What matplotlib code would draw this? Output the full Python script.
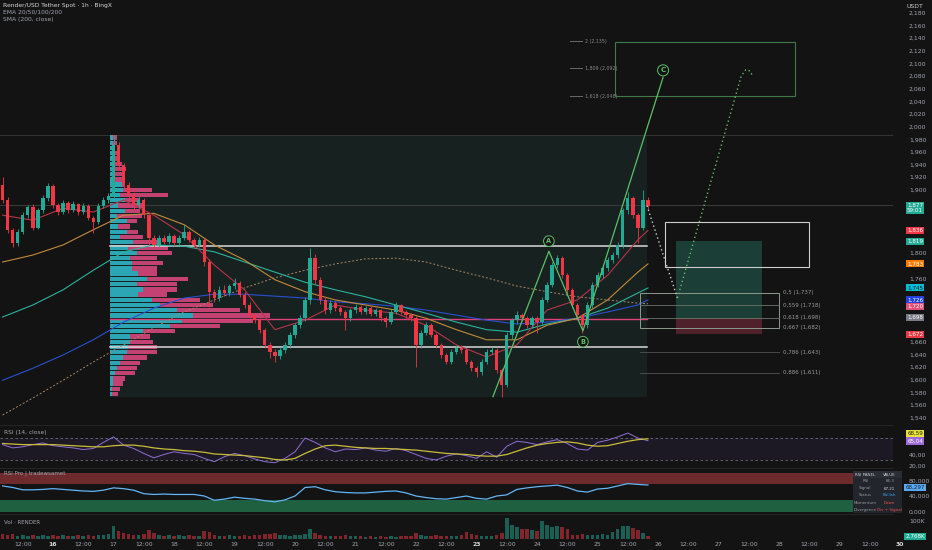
import numpy as np
import matplotlib as mpl
mpl.use("Agg")
import matplotlib.pyplot as plt
from matplotlib.patches import Rectangle

BG = "#131313"
UP = "#22ab94"
DOWN = "#f23645"
TXT = "#a3a6af"

# time axis: hours counted from 15 Jun 00:00, 2h candles
candle_start = 4
candle_step = 2
first_open = 1908
closes = [1884, 1837, 1816, 1833, 1860, 1873, 1840, 1868, 1887, 1906,
          1876, 1865, 1879, 1868, 1878, 1865, 1875, 1856, 1849, 1875,
          1884, 1890, 1971, 1939, 1908, 1892, 1876, 1884, 1860, 1824,
          1813, 1824, 1818, 1827, 1816, 1824, 1833, 1821, 1813, 1821,
          1786, 1739, 1729, 1742, 1737, 1748, 1753, 1734, 1718, 1702,
          1694, 1679, 1655, 1644, 1637, 1647, 1655, 1671, 1686, 1697,
          1726, 1792, 1758, 1726, 1710, 1721, 1713, 1707, 1697, 1710,
          1715, 1707, 1713, 1704, 1710, 1697, 1691, 1707, 1718, 1707,
          1702, 1697, 1655, 1674, 1686, 1671, 1655, 1639, 1628, 1644,
          1650, 1647, 1628, 1618, 1612, 1628, 1644, 1647, 1615, 1592,
          1671, 1694, 1702, 1697, 1686, 1697, 1691, 1726, 1750, 1781,
          1792, 1765, 1742, 1718, 1702, 1686, 1718, 1750, 1765, 1777,
          1789, 1797, 1813, 1868, 1887, 1860, 1840, 1884, 1875]
highs = [1920, 1888, 1840, 1838, 1865, 1876, 1878, 1872, 1892, 1911,
         1910, 1880, 1884, 1882, 1882, 1880, 1879, 1877, 1858, 1879,
         1888, 1895, 1987, 1975, 1942, 1912, 1896, 1890, 1887, 1862,
         1828, 1828, 1828, 1832, 1830, 1828, 1845, 1836, 1824, 1826,
         1824, 1790, 1744, 1748, 1750, 1752, 1761, 1756, 1738, 1722,
         1706, 1698, 1682, 1660, 1648, 1652, 1660, 1675, 1690, 1702,
         1730, 1808, 1798, 1762, 1730, 1726, 1725, 1716, 1710, 1714,
         1720, 1718, 1717, 1716, 1714, 1712, 1700, 1711, 1723, 1720,
         1710, 1705, 1700, 1678, 1691, 1689, 1674, 1658, 1642, 1648,
         1655, 1654, 1650, 1631, 1622, 1632, 1648, 1652, 1650, 1618,
         1676, 1698, 1708, 1706, 1700, 1701, 1700, 1730, 1755, 1786,
         1797, 1796, 1768, 1745, 1721, 1704, 1722, 1754, 1770, 1782,
         1794, 1802, 1818, 1872, 1897, 1890, 1864, 1900, 1889]
lows = [1880, 1832, 1810, 1812, 1830, 1855, 1836, 1838, 1864, 1883,
        1872, 1860, 1862, 1864, 1865, 1861, 1862, 1852, 1832, 1846,
        1872, 1880, 1886, 1932, 1902, 1886, 1870, 1872, 1855, 1813,
        1808, 1810, 1814, 1815, 1812, 1813, 1820, 1817, 1808, 1810,
        1780, 1715, 1722, 1725, 1732, 1733, 1744, 1730, 1713, 1698,
        1690, 1674, 1650, 1634, 1628, 1632, 1642, 1650, 1666, 1682,
        1692, 1720, 1752, 1720, 1704, 1705, 1708, 1702, 1679, 1692,
        1706, 1703, 1703, 1700, 1700, 1693, 1683, 1688, 1704, 1703,
        1698, 1693, 1620, 1650, 1670, 1667, 1650, 1635, 1624, 1625,
        1640, 1642, 1624, 1614, 1604, 1608, 1625, 1640, 1610, 1573,
        1588, 1665, 1688, 1692, 1681, 1682, 1674, 1688, 1722, 1746,
        1776, 1760, 1736, 1713, 1697, 1674, 1682, 1714, 1746, 1760,
        1772, 1785, 1792, 1808, 1862, 1855, 1816, 1836, 1870]
volumes_k = [28, 22, 28, 17, 22, 17, 22, 17, 22, 17, 22,
             17, 22, 17, 17, 22, 17, 22, 17, 22, 22, 28,
             72, 44, 33, 28, 22, 22, 28, 50, 33,
             22, 17, 22, 17, 22, 17, 22, 17, 17, 44,
             39, 22, 17, 17, 22, 17, 17, 22, 17, 22,
             22, 28, 28, 33, 22, 22, 17, 22, 22, 28,
             55, 33, 22, 17, 17, 17, 17, 22, 17, 17,
             17, 11, 17, 11, 17, 11, 17, 11, 17, 17, 17,
             33, 22, 17, 17, 22, 17, 17, 17, 17, 22, 39,
             28, 22, 17, 17, 17, 22, 33,
             116, 77, 66, 55, 55, 50, 44, 99, 77, 66, 72, 66, 55,
             22, 22, 28, 22, 22, 22, 28, 22,
             39, 55, 72, 72, 61, 50, 33, 17]

# moving averages, read every 12h
ma_t = [4, 16, 28, 40, 52, 64, 76, 88, 100, 112, 124, 136, 148, 160,
        172, 184, 196, 208, 220, 232, 244, 256, 260]
ema20 = [1860, 1852, 1871, 1865, 1884, 1860, 1829, 1781, 1742, 1679, 1694, 1718,
         1710, 1705, 1686, 1655, 1636, 1655, 1710, 1726, 1765, 1821, 1836]
ema50 = [1786, 1797, 1813, 1837, 1860, 1863, 1845, 1813, 1789, 1758, 1739, 1726,
         1718, 1710, 1697, 1679, 1663, 1663, 1686, 1697, 1726, 1770, 1783]
ema100 = [1699, 1718, 1742, 1773, 1802, 1813, 1811, 1802, 1786, 1770, 1754, 1742,
          1731, 1718, 1705, 1691, 1679, 1675, 1688, 1697, 1713, 1737, 1745]
ema200 = [1599, 1618, 1639, 1663, 1691, 1713, 1729, 1735, 1735, 1732, 1729, 1723,
          1720, 1716, 1710, 1702, 1694, 1688, 1691, 1697, 1707, 1718, 1726]
sma200 = [1544, 1571, 1599, 1628, 1655, 1682, 1707, 1726, 1745, 1761, 1773, 1783,
          1791, 1792, 1786, 1773, 1761, 1748, 1739, 1731, 1726, 1721, 1720]

# oscillators, read every 4h
osc_start = 4
osc_step = 4
rsi = [58, 52, 54, 58, 61, 56, 54, 52, 49, 51, 62, 72, 57, 51, 42, 34, 40, 45, 42, 40,
       33, 27, 36, 42, 38, 32, 27, 25, 33, 45, 70, 62, 52, 45, 50, 49, 52, 48, 46, 51,
       47, 40, 33, 30, 37, 41, 38, 33, 45, 35, 55, 64, 62, 58, 63, 67, 60, 50, 48, 62,
       66, 72, 79, 70, 65.04]
rsi_ma = [60, 59, 58, 58, 58, 58, 57, 56, 55, 54, 54, 56, 57, 57, 55, 52, 50, 49, 47, 46,
          44, 41, 40, 39, 38, 36, 34, 31, 30, 33, 42, 50, 56, 57, 55, 53, 52, 51, 51, 50,
          49, 48, 46, 44, 42, 41, 40, 38, 37, 37, 40, 46, 52, 57, 60, 62, 63, 61, 57, 55,
          56, 60, 64, 67, 68.59]
rsi_pro = [66, 62, 56, 56, 57, 59, 57, 55, 53, 52, 55, 61, 59, 55, 46, 44, 45, 44, 44, 44,
           40, 29, 32, 37, 34, 32, 28, 25, 30, 40, 62, 64, 56, 51, 49, 48, 48, 50, 52, 53,
           48, 40, 36, 33, 32, 36, 40, 34, 32, 40, 43, 57, 61, 64, 66, 68, 62, 53, 50, 58,
           60, 66, 72, 70, 68.297]

# volume profile, rows from top to bottom
profile_high = 1987
profile_low = 1573
profile_t0 = 46.6
profile_t1 = 259.6
vp_up = [3.3, 2.7, 1.7, 1.7, 1.7, 5, 3.3, 3.3, 5, 11.7,
         13.3, 10, 15, 8.3, 15, 6.7, 16.7, 8.3, 16.7, 10,
         23.3, 18.3, 26.7, 20, 21.7, 21.7, 28.3, 36.7, 26.7, 33.3,
         28.3, 41.7, 50, 66.7, 83.3, 71.7, 60, 33.3, 20, 20,
         18.3, 16.7, 13.3, 10, 6.7, 5, 3.3, 2.7, 1.7, 1.7]
vp_down = [4, 4, 3.3, 6.7, 7.7, 6.7, 12.7, 8.3, 7.7, 2.3,
           28.3, 48, 15, 25, 15, 25, 10, 11.7, 11.7, 23.3,
           23.3, 40, 35, 26.7, 31.7, 25, 18.3, 41.7, 40, 33.3,
           28.3, 48.3, 53.3, 63.3, 76.7, 71.7, 50, 31.7, 20, 23.3,
           28.3, 30, 23.3, 20, 20, 20, 11.7, 10.7, 8.3, 6.7]
poc_price = 1696
range_top = 1811
range_bottom = 1652

# ABC wave
wave_t = [198.5, 220.7, 234.2, 266.0]
wave_p = [1573, 1803, 1677, 2078]
wave_labels = [("A", 220.7, 1819), ("B", 234.2, 1660), ("C", 266.0, 2089)]

# projection path
proj_down_t = [259.6, 271.7]
proj_down_p = [1875, 1729]
proj_up_t = [271.7, 297.0, 298.8, 300.5, 301.5]
proj_up_p = [1729, 2080, 2090, 2088, 2080]

# fib retracement 1 = 1573, 0 = 1900
fib_levels = ["0,5", "0,559", "0,618", "0,667", "0,786", "0,886"]
fib_prices = [1737, 1718, 1698, 1682, 1643, 1611]
ext_levels = ["2", "1,809", "1,618"]
ext_prices = [2135, 2092, 2048]

# long position
pos_t = (271.1, 305.2)
pos_target, pos_entry, pos_stop = 1819, 1698, 1672

# right-hand price tags
tag_prices = [1871, 1836, 1819, 1783, 1745, 1726, 1716, 1698, 1672]
tag_texts = ["1,877\n59:01", "1,836", "1,819", "1,783", "1,745", "1,726", "1,720", "1,698", "1,672"]
tag_colors = [UP, DOWN, UP, "#f57c00", "#00bcd4", "#2341e0", "#e0527a", "#787b86", "#e53945"]

fig = plt.figure(figsize=(9.32, 5.5), dpi=100, facecolor=BG)
W, H, CW = 932, 550, 893
XL = (2.975, 357.2)
PX_PER_PRICE = 0.6325


def pane(top, bottom):
    ax = fig.add_axes([0, 1 - bottom / H, CW / W, (bottom - top) / H])
    ax.set_facecolor(BG)
    for s in ax.spines.values():
        s.set_visible(False)
    ax.set_xlim(*XL)
    ax.tick_params(axis="x", length=0, labelbottom=False)
    ax.yaxis.tick_right()
    ax.tick_params(axis="y", length=0, labelsize=4.4, colors=TXT, pad=11.5)
    return ax


def tag(ax, y, text, fc, tc="white"):
    ax.text(915 / CW, y, text, transform=ax.get_yaxis_transform(), ha="center", va="center",
            fontsize=4.1, color=tc, zorder=20, clip_on=False, linespacing=1.05,
            bbox=dict(boxstyle="square,pad=0.18", fc=fc, ec="none"))


# ---------------- main price pane
ax = pane(0, 425)
ax.set_ylim(1528.3, 2200.2)
yt = [v for v in range(1540, 2181, 20)
      if min(abs(v - p) for p in tag_prices) * PX_PER_PRICE > 7]
ax.set_yticks(yt)
ax.set_yticklabels([f"{v:,}" for v in yt])

ax.axhline(1876, color="#3c3c3c", lw=0.7, zorder=1)
ax.axhline(profile_high, color="#353535", lw=0.7, zorder=1)
ax.add_patch(Rectangle((profile_t0, profile_low), profile_t1 - profile_t0,
                       profile_high - profile_low, fc="#1b3430", alpha=0.45, ec="none", zorder=0))

row_h = (profile_high - profile_low) / len(vp_up)
centers = profile_high - (np.arange(len(vp_up)) + 0.5) * row_h
hours_per_unit = 1 / 2.521
up_w = np.array(vp_up) * hours_per_unit
dn_w = np.array(vp_down) * hours_per_unit
ax.barh(centers, up_w, left=profile_t0, height=row_h * 0.82, color="#2fb4c6", alpha=0.9, zorder=2)
ax.barh(centers, dn_w, left=profile_t0 + up_w, height=row_h * 0.82, color="#d8467c", alpha=0.9, zorder=2)
ax.plot([profile_t0, profile_t1], [poc_price] * 2, color="#e0407a", lw=1.0, zorder=2)

for lvl in (range_top, range_bottom):
    ax.plot([profile_t0, profile_t1], [lvl] * 2, color="#d9d9d9", lw=1.1, zorder=3)

ax.plot(ma_t, sma200, color="#a88868", lw=0.7, ls=(0, (2, 2)), zorder=3)
ax.plot(ma_t, ema200, color="#2a4fd0", lw=0.8, zorder=3)
ax.plot(ma_t, ema100, color="#2bb39f", lw=0.8, zorder=3)
ax.plot(ma_t, ema50, color="#c48a3a", lw=0.8, zorder=3)
ax.plot(ma_t, ema20, color="#b5364a", lw=0.8, zorder=3)

t = candle_start + candle_step * np.arange(len(closes))
c = np.array(closes)
o = np.array([first_open] + closes[:-1])
cols = np.where(c >= o, UP, DOWN)
ax.vlines(t, lows, highs, colors=cols, lw=0.6, zorder=5)
ax.bar(t, np.maximum(np.abs(c - o), 1.2), bottom=np.minimum(o, c), width=1.35,
       color=cols, zorder=6)

# wave
ax.plot(wave_t, wave_p, color="#5cc06a", lw=0.9, zorder=7)
for name, wt, wp in wave_labels:
    ax.text(wt, wp, name, ha="center", va="center", fontsize=5.2 if name == "C" else 4.8,
            color="#5cc06a", zorder=8, fontweight="bold",
            bbox=dict(boxstyle="circle,pad=0.35", fc=BG, ec="#5cc06a", lw=0.7))

# projection
ax.plot(proj_down_t, proj_down_p, color="#d0d0d0", lw=1.0, ls=(0, (1, 2)), zorder=7)
ax.plot(proj_up_t, proj_up_p, color="#66bb6a", lw=1.0, ls=(0, (1, 2)), zorder=7)

# position tool
ax.add_patch(Rectangle((pos_t[0], pos_entry), pos_t[1] - pos_t[0], pos_target - pos_entry,
                       fc="#1f4d43", alpha=0.75, ec="none", zorder=1))
ax.add_patch(Rectangle((pos_t[0], pos_stop), pos_t[1] - pos_t[0], pos_entry - pos_stop,
                       fc="#5a2430", alpha=0.85, ec="none", zorder=1))

# boxes
ax.add_patch(Rectangle((266.8, 1778), 57.1, 71, fc="none", ec="#cfcfcf", lw=0.8, zorder=4))
ax.add_patch(Rectangle((256.8, 1682), 55.2, 55, fc="none", ec="#8d9a8e", lw=0.7, zorder=4))
ax.add_patch(Rectangle((246.9, 2048), 71.4, 86, fc="none", ec="#3f7a4a", lw=0.8, zorder=4))

for name, fp in zip(fib_levels, fib_prices):
    if fp in (1718, 1698):
        ax.plot([256.8, 312.0], [fp] * 2, color="#6c766d", lw=0.6, zorder=4)
    elif fp < 1682:
        ax.plot([256.8, 312.0], [fp] * 2, color="#4a4a4a", lw=0.7, zorder=4)
    ax.text(313.6, fp, f"{name} ({fp:,})", fontsize=4.0, color="#9a9a9a", va="center", ha="left")

for name, ep in zip(ext_levels, ext_prices):
    ax.plot([229, 234], [ep] * 2, color="#6a6a6a", lw=0.7)
    ax.text(235.2, ep, f"{name} ({ep:,})", fontsize=3.4, color="#8a8a8a", va="center", ha="left")

for tp, tt, tc in zip(tag_prices, tag_texts, tag_colors):
    tag(ax, tp, tt, tc, "#102020" if tc == "#00bcd4" else "white")

fig.text(915 / W, 1 - 6 / H, "USDT", fontsize=4.4, color="#d0d0d0", ha="center", va="center")
fig.text(3 / W, 1 - 6 / H, "Render/USD Tether Spot · 1h · BingX", fontsize=4.3, color="#d8d8d8", va="center")
fig.text(3 / W, 1 - 12.5 / H, "EMA 20/50/100/200", fontsize=4.3, color=TXT, va="center")
fig.text(3 / W, 1 - 19 / H, "SMA (200, close)", fontsize=4.3, color=TXT, va="center")

# ---------------- RSI pane
osc_t = osc_start + osc_step * np.arange(len(rsi))
ar = pane(425, 468)
ar.set_ylim(15.5, 93.6)
ar.set_yticks([20, 40])
ar.set_yticklabels(["20,00", "40,00"])
ar.axhspan(30, 70, color="#7e57c2", alpha=0.1, lw=0)
for lv in (30, 70):
    ar.axhline(lv, color="#6a6d78", lw=0.6, ls=(0, (3, 3)))
ar.plot(osc_t, rsi, color="#8e6fd6", lw=0.7)
ar.plot(osc_t, rsi_ma, color="#c9bd3a", lw=0.9)
ar.spines["top"].set_visible(True)
ar.spines["top"].set_color("#242424")
ar.text(4 / CW, 0.78, "RSI (14, close)", transform=ar.transAxes, fontsize=4.2, color=TXT)
tag(ar, 78.5, "68,59", "#e8e23a", "#202020")
tag(ar, 64.5, "65,04", "#9c6ade")

# ---------------- RSI Pro pane
ap = pane(468, 514)
ap.set_ylim(-6.45, 112.3)
ap.set_yticks([0, 40, 80])
ap.set_yticklabels(["0,000", "40,000", "80,000"])
ap.axhspan(70, 100, color="#6e2b2e", lw=0)
ap.axhspan(0, 30, color="#1f6040", lw=0)
ap.plot(osc_t, rsi_pro, color="#64b5f6", lw=0.9)
ap.spines["top"].set_visible(True)
ap.spines["top"].set_color("#242424")
ap.text(4 / CW, 0.86, "RSI Pro | tradewsamet", transform=ap.transAxes, fontsize=4.0, color=TXT)
tag(ap, 62, "68,297", "#5aa9f0", "#102030")

# table
at = fig.add_axes([853 / W, 1 - 513 / H, 49 / W, 42 / H])
at.set_xlim(0, 49)
at.set_ylim(42, 0)
at.axis("off")
rows = [("RSI PANEL", "VALUE", "#d0d0d0", "#d0d0d0"),
        ("RSI", "66.3", "#9a9a9a", "#9a9a9a"),
        ("Signal", "67.21", "#9a9a9a", "#e0e0e0"),
        ("Status", "Bullish", "#9a9a9a", "#42a5f5"),
        ("Momentum", "Down", "#9a9a9a", "#ef5350"),
        ("Divergence", "Div + Signal", "#9a9a9a", "#ef5350")]
for i, (l, r, lc, rc) in enumerate(rows):
    fc = "#2a2d34" if i == 0 else "#22252c"
    at.add_patch(Rectangle((0.3, i * 7 + 0.3), 24.2, 6.4, fc=fc, ec="none"))
    at.add_patch(Rectangle((24.8, i * 7 + 0.3), 24.0, 6.4, fc=fc, ec="none"))
    at.text(12.4, i * 7 + 3.5, l, fontsize=2.9, color=lc, ha="center", va="center")
    at.text(36.8, i * 7 + 3.5, r, fontsize=2.9, color=rc, ha="center", va="center")

# ---------------- volume pane
av = pane(514, 539)
av.set_ylim(0, 139)
av.set_yticks([100])
av.set_yticklabels(["100K"])
av.bar(t, volumes_k, width=1.4, color=cols, alpha=0.5)
av.spines["top"].set_visible(True)
av.spines["top"].set_color("#242424")
av.text(4 / CW, 0.62, "Vol · RENDER", transform=av.transAxes, fontsize=4.0, color=TXT)
tag(av, 12, "2.768K", UP)

xt = np.arange(12, 349, 12)
xl = ["12:00" if v % 24 == 12 else str(15 + v // 24) for v in xt]
av.set_xticks(xt)
av.set_xticklabels(xl)
av.tick_params(axis="x", labelbottom=True, labelsize=4.4, colors=TXT, pad=2.5)
for lab in av.get_xticklabels():
    if lab.get_text() in ("16", "23"):
        lab.set_fontweight("bold")
        lab.set_color("#d8d8d8")
av.text(360, -0.12, "30", transform=av.get_xaxis_transform(), fontsize=4.4, color="#d8d8d8",
        fontweight="bold", ha="center", va="top", clip_on=False)

fig.savefig("out.png", dpi=100, facecolor=BG)
